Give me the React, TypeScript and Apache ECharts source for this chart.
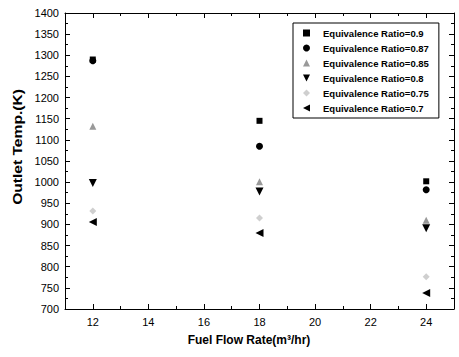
import React, { useEffect, useRef } from "react";
import * as echarts from "echarts";

// Fuel flow rates (m³/hr) at which the outlet temperature was measured
const flowRates = [12, 18, 24];

// Outlet temperature (K) for each equivalence ratio
const ratio090 = [1290, 1145, 1002];
const ratio087 = [1287, 1085, 982];
const ratio085 = [1132, 1001, 910];
const ratio080 = [998, 978, 891];
const ratio075 = [932, 915, 776];
const ratio070 = [906, 880, 738];

// Axis label positions
const xLabelTicks = [12, 14, 16, 18, 20, 22, 24];
const xMinorTicks = [13, 15, 17, 19, 21, 23];

const FONT = "'Liberation Sans', Arial, sans-serif";
const INK = "#000";

const DOWN_TRIANGLE = "path://M0,0 L10,0 L5,10 Z";
const LEFT_TRIANGLE = "path://M10,0 L10,10 L0,5 Z";

function pairs(values: number[]) {
  return flowRates.map((x, i) => [x, values[i]]);
}

export default function App() {
  const ref = useRef<HTMLDivElement>(null);

  useEffect(() => {
    if (!ref.current) return;
    const chart = echarts.init(ref.current, null, { renderer: "svg" });

    const xBase = {
      type: "value" as const,
      min: 11,
      max: 25,
      interval: 1,
      splitLine: { show: false },
    };
    const yBase = {
      type: "value" as const,
      min: 700,
      max: 1400,
      interval: 50,
      splitLine: { show: false },
      axisLine: { show: true, lineStyle: { color: INK, width: 1 } },
      axisTick: { show: true, inside: true, length: 5, lineStyle: { color: INK } },
      minorTick: { show: true, splitNumber: 2, length: 3, lineStyle: { color: INK } },
    };

    const series = [
      { name: "Equivalence Ratio=0.9", data: ratio090, symbol: "rect", size: 6, color: INK },
      { name: "Equivalence Ratio=0.87", data: ratio087, symbol: "circle", size: 7, color: INK },
      { name: "Equivalence Ratio=0.85", data: ratio085, symbol: "triangle", size: 7, color: "#999" },
      { name: "Equivalence Ratio=0.8", data: ratio080, symbol: DOWN_TRIANGLE, size: 8, color: INK },
      { name: "Equivalence Ratio=0.75", data: ratio075, symbol: "diamond", size: 7, color: "#cfcfcf" },
      { name: "Equivalence Ratio=0.7", data: ratio070, symbol: LEFT_TRIANGLE, size: 8, color: INK },
    ];

    chart.setOption({
      animation: false,
      backgroundColor: "#fff",
      grid: { left: 65, right: 5, top: 13, bottom: 48, containLabel: false },
      xAxis: [
        {
          ...xBase,
          position: "bottom",
          axisLine: { show: true, onZero: false, lineStyle: { color: INK, width: 1 } },
          axisTick: { show: true, inside: true, length: 5, customValues: xLabelTicks, lineStyle: { color: INK } },
          axisLabel: { customValues: xLabelTicks, fontSize: 11, color: INK, margin: 7, fontFamily: FONT },
        },
        {
          ...xBase,
          position: "bottom",
          axisLine: { show: false },
          axisTick: { show: true, inside: true, length: 3, customValues: xMinorTicks, lineStyle: { color: INK } },
          axisLabel: { show: false },
        },
        {
          ...xBase,
          position: "top",
          axisLine: { show: true, onZero: false, lineStyle: { color: INK, width: 1 } },
          axisTick: { show: true, inside: true, length: 5, customValues: xLabelTicks, lineStyle: { color: INK } },
          axisLabel: { show: false },
        },
        {
          ...xBase,
          position: "top",
          axisLine: { show: false },
          axisTick: { show: true, inside: true, length: 3, customValues: xMinorTicks, lineStyle: { color: INK } },
          axisLabel: { show: false },
        },
      ],
      yAxis: [
        {
          ...yBase,
          position: "left",
          axisLabel: {
            fontSize: 11,
            color: INK,
            margin: 6,
            fontFamily: FONT,
            formatter: (v: number) => String(v),
          },
        },
        {
          ...yBase,
          position: "right",
          axisLabel: { show: false },
        },
      ],
      legend: {
        orient: "vertical",
        left: 293,
        top: 23,
        padding: [5, 10, 5, 10],
        itemWidth: 7,
        itemHeight: 7,
        itemGap: 5,
        borderColor: INK,
        borderWidth: 1,
        backgroundColor: "#fff",
        textStyle: {
          fontSize: 9.5,
          fontWeight: "bold",
          color: INK,
          fontFamily: FONT,
          padding: [0, 0, 0, 8],
        },
        data: series.map((s) => s.name),
      },
      series: series.map((s) => ({
        type: "scatter",
        name: s.name,
        xAxisIndex: 0,
        yAxisIndex: 0,
        symbol: s.symbol,
        symbolSize: s.size,
        itemStyle: { color: s.color, opacity: 1 },
        data: pairs(s.data),
      })),
      graphic: [
        {
          type: "text",
          x: 249,
          y: 340,
          style: {
            text: "Fuel Flow Rate(m³/hr)",
            fontSize: 12,
            fontWeight: "bold",
            fontFamily: FONT,
            fill: INK,
            align: "center",
            verticalAlign: "middle",
          },
        },
        {
          type: "text",
          x: 17,
          y: 147,
          rotation: Math.PI / 2,
          scaleX: 1.2,
          style: {
            text: "Outlet Temp.(K)",
            fontSize: 13,
            fontWeight: "bold",
            fontFamily: FONT,
            fill: INK,
            align: "center",
            verticalAlign: "middle",
          },
        },
      ],
    });

    return () => chart.dispose();
  }, []);

  return (
    <div
      ref={ref}
      style={{ position: "fixed", left: 0, top: 0, width: 459, height: 357 }}
    />
  );
}
